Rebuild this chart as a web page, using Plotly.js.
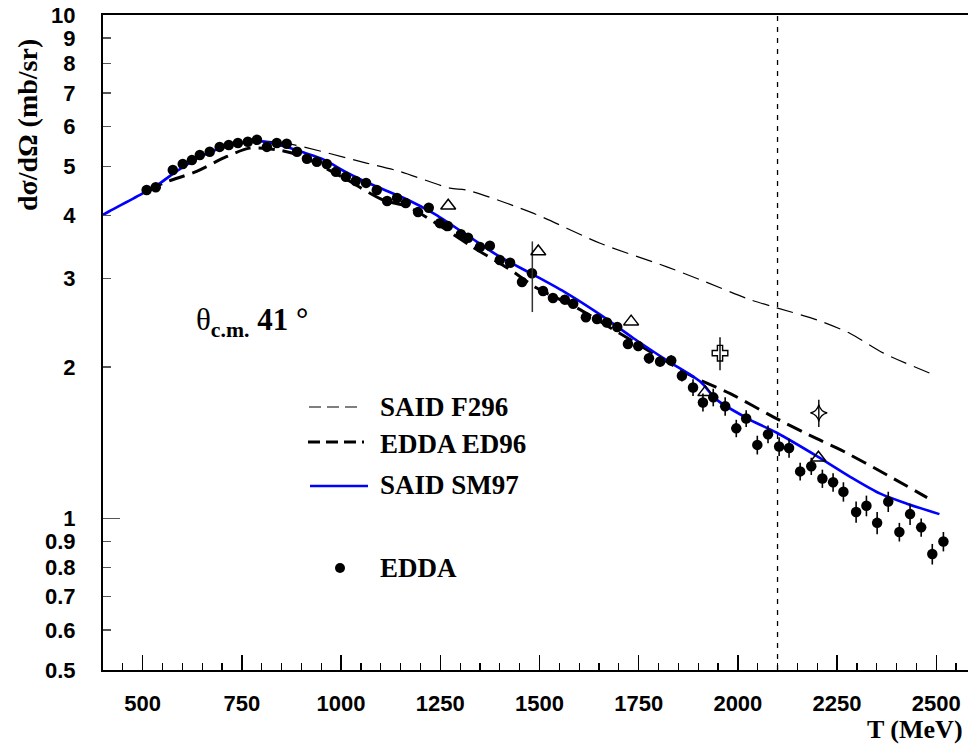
<!DOCTYPE html>
<html>
<head>
<meta charset="utf-8">
<script src="https://cdn.plot.ly/plotly-3.0.1.min.js"></script>
<style>html,body{margin:0;padding:0;background:#fff;}#plot{width:968px;height:744px;}</style>
</head>
<body>
<div id="plot"></div>
<script>
// ---------- data ----------
const eddaT = [510,533,576,601,624,644,669,694,717,740,765,788,813,838,863,889,914,939,964,987,1012,1037,1063,1090,1116,1141,1163,1194,1221,1249,1269,1302,1320,1350,1375,1400,1426,1456,1481,1509,1534,1564,1585,1617,1645,1670,1696,1723,1749,1776,1804,1832,1859,1887,1912,1938,1968,1996,2021,2049,2076,2104,2129,2157,2185,2213,2240,2266,2298,2324,2351,2379,2407,2434,2462,2490,2518];
const eddaY = [4.49,4.55,4.92,5.06,5.15,5.27,5.35,5.47,5.52,5.57,5.60,5.65,5.47,5.57,5.55,5.35,5.18,5.11,5.06,4.88,4.77,4.68,4.64,4.49,4.27,4.33,4.23,4.06,4.14,3.86,3.81,3.67,3.61,3.46,3.48,3.26,3.22,2.95,3.07,2.83,2.74,2.72,2.67,2.51,2.49,2.45,2.40,2.22,2.20,2.08,2.05,2.06,1.92,1.82,1.70,1.74,1.67,1.51,1.58,1.40,1.47,1.39,1.38,1.24,1.27,1.20,1.18,1.13,1.03,1.06,0.98,1.08,0.94,1.02,0.96,0.85,0.90];
const eddaErr = [0.05,0.05,0.05,0.05,0.05,0.05,0.05,0.05,0.05,0.05,0.05,0.05,0.05,0.05,0.05,0.05,0.05,0.05,0.05,0.05,0.05,0.05,0.05,0.05,0.05,0.05,0.05,0.05,0.05,0.05,0.05,0.05,0.05,0.05,0.05,0.05,0.05,0.05,0.05,0.05,0.05,0.05,0.05,0.05,0.05,0.05,0.05,0.05,0.05,0.05,0.05,0.05,0.05,0.07,0.07,0.07,0.07,0.06,0.06,0.06,0.06,0.06,0.06,0.05,0.05,0.05,0.05,0.05,0.05,0.05,0.05,0.05,0.04,0.05,0.04,0.04,0.04];

const sm97T = [400,417,501,543,585,644,711,787,858,909,959,1009,1060,1119,1169,1232,1316,1400,1484,1569,1653,1737,1821,1905,1947,2031,2098,2199,2283,2359,2426,2508];
const sm97Y = [4.01,4.08,4.43,4.63,4.89,5.23,5.48,5.62,5.48,5.32,5.15,4.89,4.67,4.46,4.29,4.04,3.66,3.31,3.05,2.80,2.54,2.28,2.06,1.87,1.72,1.57,1.48,1.33,1.21,1.12,1.07,1.02];

const f296T = [501,585,644,711,787,862,1064,1148,1274,1316,1484,1653,1821,1905,2031,2098,2199,2283,2367,2493];
const f296Y = [4.43,4.89,5.23,5.48,5.62,5.56,5.08,4.89,4.53,4.49,4.04,3.52,3.16,2.98,2.72,2.62,2.48,2.33,2.13,1.93];

const ed96T = [513,551,636,711,770,837,892,1000,1106,1169,1232,1329,1426,1493,1594,1703,1888,1981,2090,2199,2258,2376,2477];
const ed96Y = [4.46,4.63,4.89,5.23,5.44,5.40,5.27,4.78,4.29,4.16,3.89,3.47,3.12,2.87,2.62,2.33,1.91,1.77,1.59,1.44,1.37,1.22,1.10];

const triT = [1270,1497,1731,1918,2203];
const triY = [4.18,3.39,2.46,1.78,1.32];

const crossT = [1955]; const crossY = [2.13]; const crossErr = [0.16];
const starT = [2204];  const starY = [1.62];  const starErr = [0.10];

const bigBarT = [1482]; const bigBarY = [3.02]; const bigBarUp = [0.53]; const bigBarDown = [0.45];

const cutT = [2100, 2100]; const cutY = [0.5, 10];

const yTickVals = [0.5,0.6,0.7,0.8,0.9,1,2,3,4,5,6,7,8,9,10];
const yTickText = ['0.5','0.6','0.7','0.8','0.9','1','2','3','4','5','6','7','8','9','10'];
const xTickVals = [500,750,1000,1250,1500,1750,2000,2250,2500];

const legendNames = ['SAID F296','EDDA ED96','SAID SM97','EDDA'];

// ---------- layout helpers ----------
const L = 103, R = 968, T = 15, B = 670;
const px = x => (x - L) / (R - L);
const py = y => (B - y) / (B - T);
const serif = {family: 'Liberation Serif, Times New Roman, serif', color: '#000', weight: 'bold'};
const sans = {family: 'Liberation Sans, Arial, sans-serif', color: '#000', weight: 'bold'};

const traces = [
  {x: cutT, y: cutY, mode: 'lines', line: {color: '#000', width: 1.3, dash: '5px,6px'}, hoverinfo: 'skip'},
  {x: f296T, y: f296Y, mode: 'lines', line: {color: '#000', width: 1.2, dash: '17px,8px', shape: 'spline', smoothing: 0.8}},
  {x: ed96T, y: ed96Y, mode: 'lines', line: {color: '#000', width: 3, dash: '16px,8px', shape: 'spline', smoothing: 0.8}},
  {x: sm97T, y: sm97Y, mode: 'lines', line: {color: '#0000ff', width: 2.6, shape: 'spline', smoothing: 0.8}},
  {x: eddaT, y: eddaY, mode: 'markers', marker: {color: '#000', size: 10.5, symbol: 'circle'},
   error_y: {type: 'data', array: eddaErr, color: '#000', thickness: 1.6, width: 0}},
  {x: bigBarT, y: bigBarY, mode: 'markers', marker: {color: '#000', size: 1, opacity: 0},
   error_y: {type: 'data', symmetric: false, array: bigBarUp, arrayminus: bigBarDown, color: '#333', thickness: 1.5, width: 0}},
  {x: triT, y: triY, mode: 'markers', marker: {color: '#000', size: 13, symbol: 'triangle-up-open', line: {width: 1.5, color: '#000'}}},
  {x: crossT, y: crossY, mode: 'markers', marker: {color: '#000', size: 13, symbol: 'cross-open', line: {width: 1.4, color: '#000'}},
   error_y: {type: 'data', array: crossErr, color: '#000', thickness: 1.4, width: 0}},
  {x: starT, y: starY, mode: 'markers', marker: {color: '#000', size: 12, symbol: 'star-diamond-open', line: {width: 1.3, color: '#000'}},
   error_y: {type: 'data', array: starErr, color: '#000', thickness: 1.4, width: 0}},
  // overlay axis carrying the long tick at 1
  {x: [400], y: [1], xaxis: 'x', yaxis: 'y2', mode: 'markers', marker: {opacity: 0}, hoverinfo: 'skip'}
];

const shapes = [
  {type: 'line', xref: 'paper', yref: 'paper', x0: px(309), x1: px(363), y0: py(407), y1: py(407), line: {color: '#000', width: 1.2, dash: '12px,6px'}},
  {type: 'line', xref: 'paper', yref: 'paper', x0: px(308), x1: px(364), y0: py(442), y1: py(442), line: {color: '#000', width: 3, dash: '12px,6px'}},
  {type: 'line', xref: 'paper', yref: 'paper', x0: px(310), x1: px(368), y0: py(486), y1: py(486), line: {color: '#0000ff', width: 2.6}},
  {type: 'circle', xref: 'paper', yref: 'paper', x0: px(335), x1: px(345), y0: py(573), y1: py(563), fillcolor: '#000', line: {color: '#000', width: 0}}
];

const ann = (x, y, text, size, extra) => Object.assign({xref: 'paper', yref: 'paper', x: px(x), y: py(y), text: text, showarrow: false, xanchor: 'left', yanchor: 'middle', font: Object.assign({}, serif, {size: size})}, extra || {});

const annotations = [
  ann(378, 407, legendNames[0], 27),
  ann(378, 444, legendNames[1], 27),
  ann(378, 485, legendNames[2], 27),
  ann(378, 568, legendNames[3], 27),
  ann(28, 125, 'dσ/dΩ (mb/sr)', 28, {textangle: -90, xanchor: 'center'}),
  ann(965, 729, 'T (MeV)', 26, {xanchor: 'right'}),
  ann(194, 322, '<span style="font-weight:normal">θ</span><sub>c.m.</sub> 41 °', 31)
];

const layout = {
  width: 968, height: 744,
  margin: {l: L, r: 968 - R, t: T, b: 744 - B, pad: 0},
  paper_bgcolor: '#fff', plot_bgcolor: '#fff',
  showlegend: false,
  xaxis: {
    range: [400, 2580], showgrid: false, zeroline: false,
    showline: true, linecolor: '#000', linewidth: 2, mirror: true,
    ticks: 'inside', ticklen: 15, tickwidth: 1.5, tickcolor: '#000',
    tickvals: xTickVals, ticktext: xTickVals.map(String),
    tickfont: Object.assign({}, sans, {size: 22}), ticklabelstandoff: 13,
    minor: {dtick: 50, ticks: 'inside', ticklen: 7, tickwidth: 1.2, tickcolor: '#000', showgrid: false}
  },
  yaxis: {
    type: 'log', range: [Math.log10(0.5), 1], showgrid: false, zeroline: false,
    showline: true, linecolor: '#000', linewidth: 2,
    ticks: 'inside', ticklen: 8, tickwidth: 1.3, tickcolor: '#555',
    tickvals: yTickVals, ticktext: yTickText,
    tickfont: Object.assign({}, sans, {size: 22}), ticklabelstandoff: 21
  },
  yaxis2: {
    type: 'log', range: [Math.log10(0.5), 1], overlaying: 'y', side: 'left',
    showgrid: false, zeroline: false, showline: false,
    ticks: 'inside', ticklen: 17, tickwidth: 1.3, tickcolor: '#555',
    tickvals: [1], showticklabels: false
  },
  shapes: shapes,
  annotations: annotations
};

Plotly.newPlot('plot', traces, layout, {staticPlot: true, displayModeBar: false});
</script>
</body>
</html>
